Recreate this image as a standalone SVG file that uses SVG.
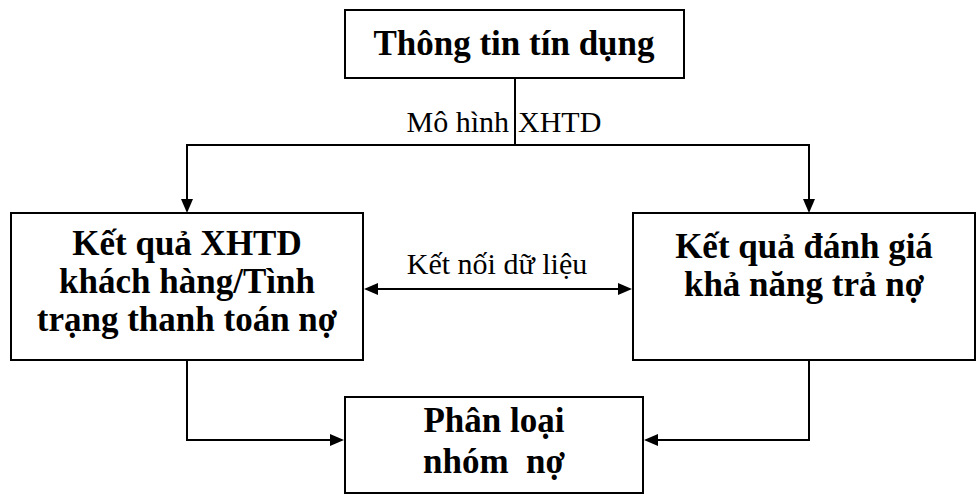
<svg xmlns="http://www.w3.org/2000/svg" width="979" height="496" viewBox="0 0 979 496">
  <rect width="979" height="496" fill="#ffffff"/>

  <!-- connector lines and their arrowheads -->
  <g id="connectors">
    <path d="M515,78 V145 M186,145 H810 M187,145 V201 M809,145 V201 M376,289 H620 M187,360 V440 H332 M809,360 V440 H656" fill="none" stroke="#000000" stroke-width="2"/>
    <polygon points="181,199 193,199 187,213" fill="#000000"/>
    <polygon points="803,199 815,199 809,213" fill="#000000"/>
    <polygon points="364,289 378,283 378,295" fill="#000000"/>
    <polygon points="632,289 618,283 618,295" fill="#000000"/>
    <polygon points="330,434 330,446 344,440" fill="#000000"/>
    <polygon points="658,434 658,446 644,440" fill="#000000"/>
  </g>

  <g id="connector-labels">
    <text x="509" y="132" font-family="Liberation Serif" font-size="30" text-anchor="end">Mô hình</text>
    <text x="518" y="132" font-family="Liberation Serif" font-size="30">XHTD</text>
    <text x="497" y="274" font-family="Liberation Serif" font-size="30" text-anchor="middle">Kết nối dữ liệu</text>
  </g>

  <g id="node-thong-tin">
    <rect x="345" y="10" width="339" height="68" fill="#ffffff" stroke="#000000" stroke-width="2"/>
    <text x="514" y="55" font-family="Liberation Serif" font-weight="bold" font-size="35" text-anchor="middle">Thông tin tín dụng</text>
  </g>

  <g id="node-ket-qua-xhtd">
    <rect x="11" y="213" width="352" height="147" fill="#ffffff" stroke="#000000" stroke-width="2"/>
    <text x="187" y="255" font-family="Liberation Serif" font-weight="bold" font-size="35" text-anchor="middle">Kết quả XHTD</text>
    <text x="187" y="293" font-family="Liberation Serif" font-weight="bold" font-size="35" text-anchor="middle">khách hàng/Tình</text>
    <text x="187" y="331" font-family="Liberation Serif" font-weight="bold" font-size="35" text-anchor="middle">trạng thanh toán nợ</text>
  </g>

  <g id="node-danh-gia">
    <rect x="633" y="213" width="342" height="147" fill="#ffffff" stroke="#000000" stroke-width="2"/>
    <text x="804" y="258" font-family="Liberation Serif" font-weight="bold" font-size="35" text-anchor="middle">Kết quả đánh giá</text>
    <text x="804" y="296" font-family="Liberation Serif" font-weight="bold" font-size="35" text-anchor="middle">khả năng trả nợ</text>
  </g>

  <g id="node-phan-loai">
    <rect x="345" y="397" width="298" height="96" fill="#ffffff" stroke="#000000" stroke-width="2"/>
    <text x="494" y="432" font-family="Liberation Serif" font-weight="bold" font-size="35" text-anchor="middle">Phân loại</text>
    <text x="494" y="473" font-family="Liberation Serif" font-weight="bold" font-size="35" text-anchor="middle" xml:space="preserve">nhóm  nợ</text>
  </g>
</svg>
